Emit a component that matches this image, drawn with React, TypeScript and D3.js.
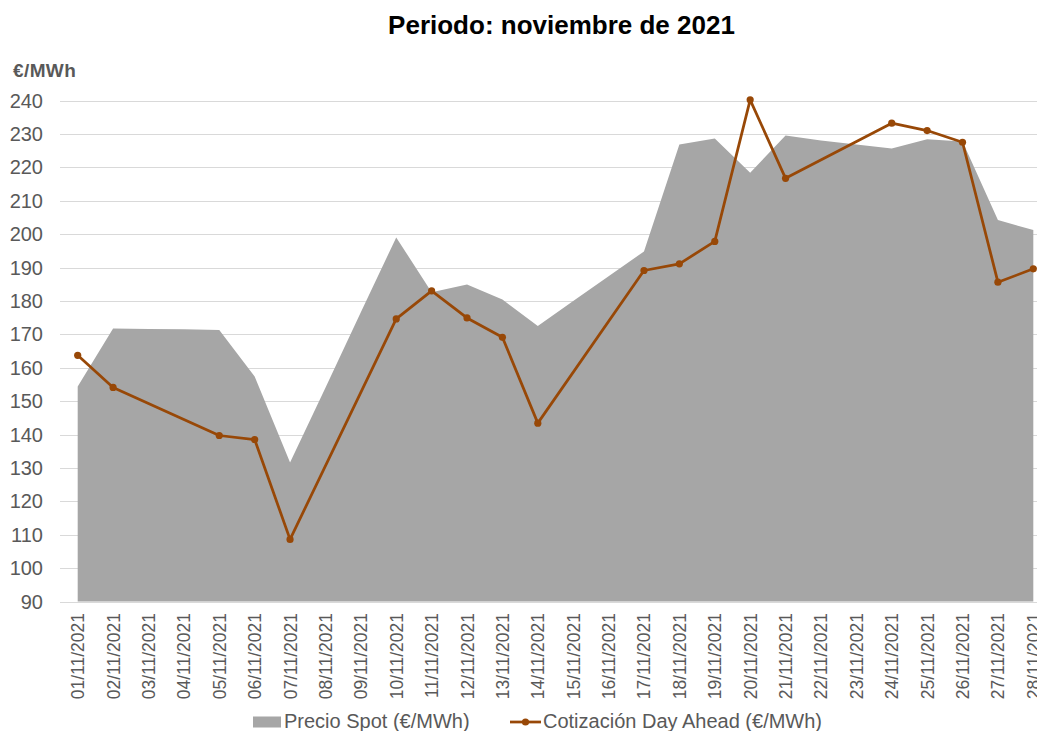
import React, { useEffect, useRef } from "react";
import * as d3 from "d3";

const days = [
  "01/11/2021", "02/11/2021", "03/11/2021", "04/11/2021", "05/11/2021", "06/11/2021", "07/11/2021",
  "08/11/2021", "09/11/2021", "10/11/2021", "11/11/2021", "12/11/2021", "13/11/2021", "14/11/2021",
  "15/11/2021", "16/11/2021", "17/11/2021", "18/11/2021", "19/11/2021", "20/11/2021", "21/11/2021",
  "22/11/2021", "23/11/2021", "24/11/2021", "25/11/2021", "26/11/2021", "27/11/2021", "28/11/2021",
];

// Precio Spot (area)
const spot = [
  154.4, 171.7, 171.6, 171.5, 171.3, 157.4, 131.6,
  154.0, 176.6, 199.0, 182.6, 184.9, 180.4, 172.5,
  180.0, 187.4, 194.8, 226.8, 228.6, 218.4, 229.5,
  228.0, 226.8, 225.6, 228.4, 227.7, 204.2, 201.2,
];

// Cotización Day Ahead (line), null = no quote that day
const dayAhead = [
  163.7, 154.1, null, null, 139.7, 138.5, 108.6,
  null, null, 174.6, 183.0, 174.9, 169.1, 143.4,
  null, null, 189.1, 191.1, 197.8, 240.2, 216.7,
  null, null, 233.2, 231.0, 227.5, 185.6, 189.6,
];

const yTicks = [90, 100, 110, 120, 130, 140, 150, 160, 170, 180, 190, 200, 210, 220, 230, 240];

const W = 1037, H = 731;
const FONT = "'Liberation Sans', Arial, sans-serif";
const TEXT = "#595959";
const SPOT_COLOR = "#a6a6a6";
const LINE_COLOR = "#984807";

export default function App() {
  const ref = useRef<SVGSVGElement>(null);

  useEffect(() => {
    const svg = d3.select(ref.current);
    svg.selectAll("*").remove();

    const left = 60, right = 1051;
    const x = d3.scaleBand().domain(days).range([left, right]).padding(0);
    const cx = (d: string) => (x(d) as number) + x.bandwidth() / 2;
    const y = d3.scaleLinear().domain([90, 240]).range([601.5, 100.5]);

    // gridlines
    svg.append("g")
      .selectAll("line")
      .data(yTicks)
      .join("line")
      .attr("x1", left)
      .attr("x2", right)
      .attr("y1", d => Math.round(y(d)) + 0.5)
      .attr("y2", d => Math.round(y(d)) + 0.5)
      .attr("stroke", "#d9d9d9")
      .attr("stroke-width", 1);

    // spot area
    const area = d3.area<number>()
      .x((d, i) => cx(days[i]))
      .y0(y(90))
      .y1(d => y(d));
    svg.append("path")
      .datum(spot)
      .attr("d", area)
      .attr("fill", SPOT_COLOR);

    // axis line
    svg.append("line")
      .attr("x1", left).attr("x2", right)
      .attr("y1", Math.round(y(90)) + 0.5).attr("y2", Math.round(y(90)) + 0.5)
      .attr("stroke", "#d9d9d9");

    // day ahead line
    const pts = days
      .map((d, i) => ({ d, v: dayAhead[i] }))
      .filter(p => p.v !== null) as { d: string; v: number }[];
    const line = d3.line<{ d: string; v: number }>()
      .x(p => cx(p.d))
      .y(p => y(p.v));
    svg.append("path")
      .datum(pts)
      .attr("d", line)
      .attr("fill", "none")
      .attr("stroke", LINE_COLOR)
      .attr("stroke-width", 2.75)
      .attr("stroke-linejoin", "round");
    svg.append("g")
      .selectAll("circle")
      .data(pts)
      .join("circle")
      .attr("cx", p => cx(p.d))
      .attr("cy", p => y(p.v))
      .attr("r", 3.6)
      .attr("fill", LINE_COLOR);

    // y tick labels
    svg.append("g")
      .selectAll("text")
      .data(yTicks)
      .join("text")
      .attr("x", 43)
      .attr("y", d => y(d))
      .attr("dy", "0.35em")
      .attr("text-anchor", "end")
      .attr("font-family", FONT)
      .attr("font-size", 20)
      .attr("fill", TEXT)
      .text(d => d);

    // x labels
    svg.append("g")
      .selectAll("text")
      .data(days)
      .join("text")
      .attr("transform", d => `translate(${cx(d) + 6.5},613) rotate(-90)`)
      .attr("text-anchor", "end")
      .attr("font-family", FONT)
      .attr("font-size", 17.5)
      .attr("fill", TEXT)
      .text(d => d);

    // unit label
    svg.append("text")
      .attr("x", 13)
      .attr("y", 77)
      .attr("font-family", FONT)
      .attr("font-weight", "bold")
      .attr("font-size", 19)
      .attr("letter-spacing", 0.4)
      .attr("fill", TEXT)
      .text("€/MWh");

    // title
    svg.append("text")
      .attr("x", 561.5)
      .attr("y", 34)
      .attr("text-anchor", "middle")
      .attr("font-family", FONT)
      .attr("font-weight", "bold")
      .attr("font-size", 26)
      .attr("fill", "#000")
      .text("Periodo: noviembre de 2021");

    // legend
    const lg = svg.append("g");
    lg.append("rect")
      .attr("x", 253).attr("y", 716.5)
      .attr("width", 28).attr("height", 11)
      .attr("fill", SPOT_COLOR);
    lg.append("text")
      .attr("x", 284).attr("y", 728)
      .attr("font-family", FONT).attr("font-size", 20)
      .attr("fill", TEXT)
      .text("Precio Spot (€/MWh)");
    lg.append("line")
      .attr("x1", 510).attr("x2", 541)
      .attr("y1", 722).attr("y2", 722)
      .attr("stroke", LINE_COLOR).attr("stroke-width", 2.75);
    lg.append("circle")
      .attr("cx", 525.5).attr("cy", 722).attr("r", 3.6)
      .attr("fill", LINE_COLOR);
    lg.append("text")
      .attr("x", 543).attr("y", 728)
      .attr("font-family", FONT).attr("font-size", 20)
      .attr("fill", TEXT)
      .text("Cotización Day Ahead (€/MWh)");
  }, []);

  return (
    <svg
      ref={ref}
      width={W}
      height={H}
      style={{ position: "absolute", left: 0, top: 0, display: "block", background: "#fff" }}
    />
  );
}
